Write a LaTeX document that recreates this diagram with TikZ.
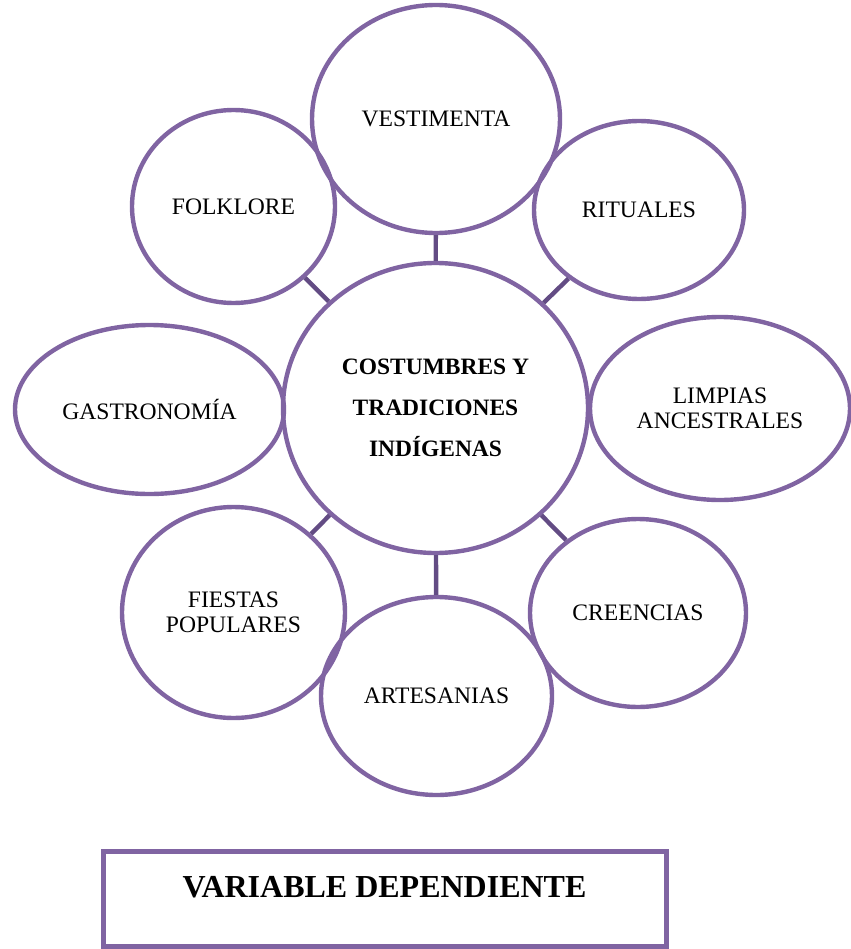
\documentclass[tikz,border=0pt]{standalone}
\usepackage{fontspec}
\setmainfont{Liberation Serif}
\usetikzlibrary{shapes.geometric}
\definecolor{ovalpurple}{HTML}{8064A2}
\definecolor{linkpurple}{HTML}{634C84}
\newcommand{\drawoval}{\node[oval]}
\newcommand{\drawbox}{\node[varbox]}

\begin{document}
\begin{tikzpicture}[x=0.75pt, y=-0.75pt,
  oval/.style={draw=ovalpurple, line width=3.3pt, ellipse, inner sep=0pt, align=center, font=\fontsize{17.7}{19}\selectfont},
  radii/.style 2 args={minimum width=#1*1.5pt, minimum height=#2*1.5pt},
  link/.style={draw=linkpurple, line width=3.3pt},
  varbox/.style={draw=ovalpurple, line width=3.75pt, rectangle, inner sep=0pt, minimum width=422.25pt, minimum height=71.25pt, text depth=18pt, font=\bfseries\fontsize{24}{28}\selectfont}]
%costumbres y tradiciones, variable dependiente

\useasboundingbox (0,0) rectangle (850,949);

\drawoval (main) [radii={152.5}{145}, font=\bfseries\fontsize{17.6}{31}\selectfont] at (435.5,408) {COSTUMBRES Y\\TRADICIONES\\INDÍGENAS};
\drawoval (vest) [radii={124}{114}] at (436,119) {VESTIMENTA};
\drawoval (folk) [radii={101.5}{96.5}] at (233.5,206.5) {FOLKLORE};
\drawoval (ritu) [radii={105}{89}] at (639,210) {RITUALES};
\drawoval (gastro) [radii={134.5}{84.5}] at (149.5,409.5) {GASTRONOMÍA};
\drawoval (limp) [radii={130}{91.5}] at (720,408.5) {LIMPIAS\\ANCESTRALES};
\drawoval (fiest) [radii={111.5}{105.5}] at (233.5,612.5) {FIESTAS\\POPULARES};
\drawoval (cree) [radii={108}{94}] at (638,613) {CREENCIAS};
\drawoval (arte) [radii={115.5}{99}] at (436.5,696) {ARTESANIAS};

\drawbox (vardep) at (384.5,898.5) {VARIABLE DEPENDIENTE};

\draw[link] (main) to (vest);
\draw[link] (main) to (folk);
\draw[link] (main) to (ritu);
\draw[link] (main) to (fiest);
\draw[link] (main) to (cree);
\draw[link] (main) to (arte);
\end{tikzpicture}
\end{document}
